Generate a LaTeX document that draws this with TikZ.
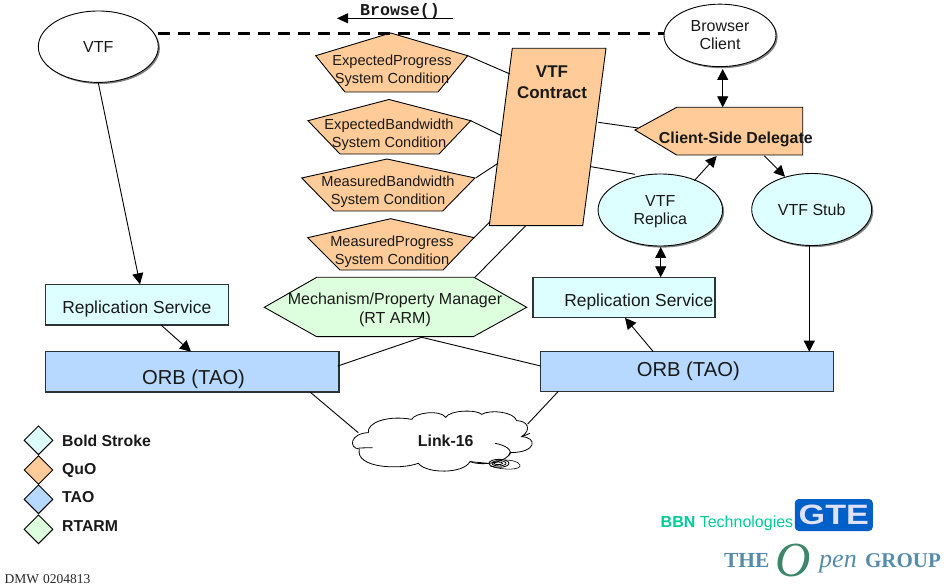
\documentclass[tikz,border=0pt]{standalone}
\usepackage{fontspec}
\setmainfont{Liberation Sans}
\newfontfamily\serifrm{Liberation Serif}
\newfontfamily\monofam{Liberation Mono}
\usetikzlibrary{arrows.meta,shapes.geometric,shadows}
\definecolor{peach}{RGB}{255,204,153}
\definecolor{aqua}{RGB}{221,255,255}
\definecolor{taob}{RGB}{184,217,255}
\definecolor{mint}{RGB}{221,255,221}
\definecolor{edgeg}{RGB}{45,50,55}
\definecolor{bbngreen}{RGB}{0,204,153}
\definecolor{gteblue}{RGB}{0,96,200}
\definecolor{opblue}{RGB}{85,140,170}
\definecolor{opgreen}{RGB}{60,135,105}
\tikzset{
  fs/.style={font=\fontsize{#1}{18}\selectfont},
  lbl/.style={align=center,inner sep=0pt,text=black!90},
  shp/.style={draw=black,line width=0.9pt,line join=miter},
  ell/.style={ellipse,draw=black,fill=white,line width=0.9pt,inner sep=0pt,align=center,text=black!90,
    drop shadow={shadow xshift=1.6pt,shadow yshift=-1.6pt,fill=black!70,opacity=0.7}},
  box/.style={rectangle,draw=edgeg,line width=1.1pt,inner sep=0pt,align=center},
  conn/.style={draw=black,line width=0.9pt},
  arr/.style={conn,-{Triangle[length=11pt,width=11pt]}},
  darr/.style={conn,{Triangle[length=11pt,width=11pt]}-{Triangle[length=11pt,width=11pt]}},
  key/.style={diamond,aspect=1,draw=black,line width=0.9pt,minimum size=29pt,inner sep=0pt},
  keytxt/.style={anchor=west,inner sep=0pt,font=\fontsize{15.8}{18}\selectfont\bfseries,text=black!90},
}
\begin{document}
\begin{tikzpicture}[x=1pt,y=-1pt]
\useasboundingbox (0,0) rectangle (946,588);
% ellipses
\node[ell,fs=16,minimum width=120pt,minimum height=71.4pt] (vtf) at (98.3,46.7) {VTF};
\node[ell,fs=16,minimum width=112pt,minimum height=62.5pt] (browser) at (720,35.4) {Browser\\Client};
\node[ell,fill=aqua,fs=16,minimum width=124.5pt,minimum height=72pt] (replica) at (660.3,210) {};
\node[lbl,fs=16] (replicatxt) at (660.3,211.5) {VTF\\Replica};
\node[ell,fill=aqua,fs=16,minimum width=120pt,minimum height=72pt] (stub) at (811.7,209.5) {VTF Stub};
% pentagons
\draw[shp,fill=peach] (390.7,33)--(467.7,55.7)--(438,92)--(345,92)--(315.7,55.7)--cycle;
\draw[shp,fill=peach] (389,99.5)--(470.7,120.7)--(439,154)--(340,154)--(308,120.7)--cycle;
\draw[shp,fill=peach] (387,159)--(475,178)--(442.7,211)--(334,211)--(301.7,178)--cycle;
\draw[shp,fill=peach] (390.7,218.7)--(474,237.7)--(443,270)--(340,270)--(307.7,237.7)--cycle;
\node[lbl,fs=14.6] (pg1) at (392,71) {ExpectedProgress\\System Condition};
\node[lbl,fs=14.6] (pg2) at (389,135) {ExpectedBandwidth\\System Condition};
\node[lbl,fs=14.6] (pg3) at (388,192) {MeasuredBandwidth\\System Condition};
\node[lbl,fs=14.6] (pg4) at (392,252) {MeasuredProgress\\System Condition};
% contract
\draw[shp,fill=peach] (512.3,48.3)--(606,48.3)--(582.7,225.7)--(489.3,225.7)--cycle;
\node[lbl,font=\fontsize{17}{21}\selectfont\bfseries] (contract) at (552,82) {VTF\\Contract};
% delegate
\draw[shp,fill=peach] (676.7,107.3)--(802.7,107.3)--(802.7,155)--(676.7,155)--(635,130)--cycle;
\node[lbl,font=\fontsize{15.9}{18}\selectfont\bfseries] (delegate) at (735.8,139) {Client-Side Delegate};
% hexagon
\draw[shp,fill=mint] (264.3,307.3)--(316.7,277.3)--(474,277.3)--(526.7,307.3)--(473.3,336.7)--(316.7,336.7)--cycle;
\node[lbl,font=\fontsize{16}{19}\selectfont] (mgr) at (395,310) {Mechanism/Property Manager\\(RT ARM)};
% boxes
\node[box,fill=aqua,minimum width=182.6pt,minimum height=40.7pt] (rsl) at (137,304.7) {};
\node[lbl,fs=17.4] (rsltxt) at (136.8,309.5) {Replication Service};
\node[box,fill=aqua,minimum width=182pt,minimum height=40.4pt] (rsr) at (624,297.5) {};
\node[lbl,fs=17.4] (rsrtxt) at (638.8,302) {Replication Service};
\node[box,fill=taob,minimum width=293.3pt,minimum height=40.3pt] (orbl) at (192.3,371.8) {};
\node[lbl,fs=20.2] (orbltxt) at (193.5,379) {ORB (TAO)};
\node[box,fill=taob,minimum width=293pt,minimum height=39.7pt] (orbr) at (687.2,371.5) {};
\node[lbl,fs=20.2] (orbrtxt) at (688.3,371) {ORB (TAO)};
% cloud
\begin{scope}[shift={(300,380)},x=0.3333pt,y=-0.3333pt]
\draw[line width=0.8pt,fill=white] (205,158) .. controls (200,128) and (262,105) .. (335,118)
  .. controls (345,98) and (420,88) .. (437,112)
  .. controls (450,90) and (530,88) .. (545,103)
  .. controls (570,88) and (642,95) .. (650,122)
  .. controls (682,122) and (697,148) .. (665,170)
  .. controls (712,172) and (712,218) .. (630,218)
  .. controls (625,245) and (550,260) .. (510,245)
  .. controls (490,282) and (380,282) .. (355,250)
  .. controls (300,270) and (165,265) .. (178,207)
  .. controls (145,205) and (150,160) .. (205,158) -- cycle;
\draw[line width=0.8pt] (176,204) -- (218,203);
\draw[line width=0.8pt] (585,190) .. controls (615,195) and (640,210) .. (628,226);
\draw[line width=0.8pt] (665,170) -- (690,160);
\draw[line width=0.8pt] (510,245) -- (565,250);
\draw[line width=0.8pt] (597,250) ellipse [x radius=30,y radius=12];
\draw[line width=0.8pt] (597,250) ellipse [x radius=21,y radius=8];
\draw[line width=0.8pt] (595,250) ellipse [x radius=13,y radius=4];
\draw[line width=0.6pt] (570,258) .. controls (610,272) and (665,270) .. (660,255) .. controls (655,243) and (630,240) .. (615,240);
\end{scope}
\node[lbl,font=\fontsize{15.9}{18}\selectfont\bfseries] (link) at (445.7,440.7) {Link-16};
% connector end points
\coordinate (pg1r) at (467.7,55.7); \coordinate (pg2r) at (470.7,120.7);
\coordinate (pg3r) at (476,177.7);  \coordinate (pg4r) at (474,237.7);
\coordinate (c1) at (510,74);       \coordinate (c2) at (501.7,135.7);
\coordinate (c3) at (498,163.3);    \coordinate (c4) at (490,221.7);
\coordinate (c5) at (525.7,225.7);  \coordinate (c6) at (598.3,122.3);
\coordinate (c7) at (591,166.7);
\coordinate (hx1) at (475,277.3);   \coordinate (hx2) at (421.7,337.3);
\coordinate (dtip) at (638,128);    \coordinate (dl) at (635,174.3);
\coordinate (d1) at (716.7,156);    \coordinate (d2) at (764.3,155.7);
\coordinate (d3) at (722.7,107.3);
\coordinate (r1) at (694.3,180.7);  \coordinate (s1) at (785,176.7);
\coordinate (b1) at (722.7,69);
\coordinate (rp1) at (660.7,247); \coordinate (rp2) at (660.7,277.3);
\coordinate (rs1) at (140,284.3);   \coordinate (rs2) at (161,325);
\coordinate (ol1) at (191,351.7);   \coordinate (ol2) at (337.8,366);
\coordinate (ol3) at (310,392);
\coordinate (or1) at (540.7,366);   \coordinate (or2) at (653.3,351.7);
\coordinate (or3) at (809.3,351.7); \coordinate (or4) at (558.3,391.4);
\coordinate (rs3) at (625,317.9);   \coordinate (st1) at (809.3,245.5);
\coordinate (cl1) at (358.3,432.7); \coordinate (cl2) at (527.7,424);
\coordinate (br1) at (453,18.3);    \coordinate (br2) at (337,18.3);
\coordinate (dash1) at (158,33.3);  \coordinate (dash2) at (664,33.3);
% connectors
\draw[conn,line width=2.6pt,dash pattern=on 12pt off 8pt] (dash1) -- (dash2);
\draw[arr,-{Triangle[length=11pt,width=10pt]}] (br1) -- (br2);
\draw[conn] (pg1r) -- (c1); \draw[conn] (pg2r) -- (c2);
\draw[conn] (pg3r) -- (c3); \draw[conn] (pg4r) -- (c4);
\draw[conn] (c5) -- (hx1);
\draw[conn] (c6) -- (dtip); \draw[conn] (c7) -- (dl);
\draw[darr] (b1) -- (d3);
\draw[arr] (r1) -- (d1);
\draw[arr] (d2) -- (s1);
\draw[darr] (rp1) -- (rp2);
\draw[arr] (vtf.south) -- (rs1);
\draw[arr] (rs2) -- (ol1);
\draw[conn] (ol2) -- (hx2) -- (or1);
\draw[arr] (or2) -- (rs3);
\draw[arr] (st1) -- (or3);
\draw[conn] (ol3) -- (cl1);
\draw[conn] (or4) -- (cl2);
% browse
\node[inner sep=0pt,text=black!90,font=\fontsize{16.6}{18}\selectfont\monofam\bfseries] (browse) at (400,11) {Browse()};
% legend
\node[key,fill=aqua] (k1) at (38.5,440.3) {};
\node[key,fill=peach] (k2) at (38.5,470) {};
\node[key,fill=taob] (k3) at (38.5,499.3) {};
\node[key,fill=mint] (k4) at (38.5,529.3) {};
\node[keytxt] (k1t) at (62,440.5) {Bold Stroke};
\node[keytxt] (k2t) at (62,470.5) {QuO};
\node[keytxt] (k3t) at (62,497.5) {TAO};
\node[keytxt] (k4t) at (62,526.5) {RTARM};
\node[anchor=west,inner sep=0pt,font=\fontsize{13.5}{15}\selectfont\serifrm,text=black!85] (dmw) at (4.5,579.5) {DMW\hspace{4pt}0204813};
% logos
\node[anchor=base west,inner sep=0pt,text=bbngreen,font=\fontsize{16}{18}\selectfont] (bbn) at (660.5,527.5) {\textbf{BBN} Technologies};
\node[rectangle,rounded corners=4pt,fill=gteblue,minimum width=78pt,minimum height=32pt,inner sep=0pt] (gte) at (833.8,515) {};
\node[inner sep=0pt,text=blue!12!white,font=\fontsize{28}{30}\selectfont\bfseries,xscale=1.22] (gtet) at (833.8,515) {GTE};
\node[anchor=base,inner sep=0pt,text=opblue,font=\fontsize{21.5}{22}\selectfont\serifrm\bfseries] (ot) at (746.7,567) {THE};
\node[anchor=base,inner sep=0pt,text=opgreen,font=\fontsize{49}{50}\selectfont\serifrm\itshape] (oo) at (793,576) {O};
\node[anchor=base,inner sep=0pt,text=opblue,font=\fontsize{26}{28}\selectfont\serifrm\itshape] (op) at (838,567) {pen};
\node[anchor=base,inner sep=0pt,text=opblue,font=\fontsize{21}{23}\selectfont\serifrm\bfseries] (og) at (903,567) {GROUP};
\end{tikzpicture}
\end{document}
